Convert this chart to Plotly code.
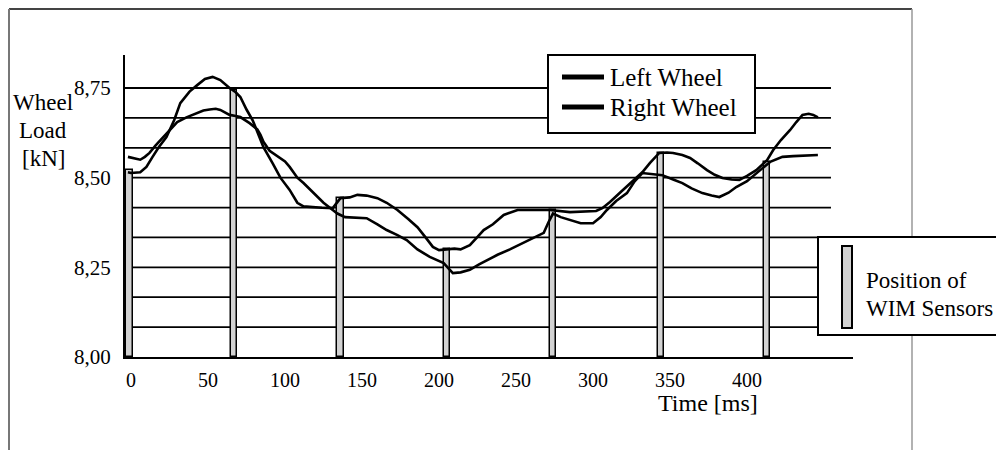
import plotly.graph_objects as go

# ---------------- data ----------------
left_t = [-2, 0, 6, 10, 14, 18, 23, 28, 32, 38, 43, 48, 53, 58, 64, 68, 71, 75, 79, 83, 86,
          92, 97, 103, 108, 112, 116, 124, 131, 134, 136, 142, 147, 153, 160, 166, 173, 180,
          186, 191, 196, 200, 205, 210, 214, 220, 225, 229, 235, 242, 251, 260, 272, 285,
          295, 302, 306, 311, 318, 326, 332, 337, 343, 348, 352, 358, 363, 368, 374, 379,
          384, 390, 395, 400, 406, 413, 417, 422, 428, 432, 436, 440, 443, 446]
left_load = [8.515, 8.513, 8.515, 8.530, 8.558, 8.585, 8.613, 8.660, 8.708, 8.740, 8.758, 8.775,
             8.781, 8.772, 8.750, 8.738, 8.725, 8.690, 8.660, 8.620, 8.585, 8.540, 8.500,
             8.466, 8.430, 8.420, 8.418, 8.416, 8.415, 8.430, 8.443, 8.445, 8.452, 8.450,
             8.443, 8.430, 8.410, 8.385, 8.362, 8.335, 8.307, 8.298, 8.300, 8.302, 8.300,
             8.312, 8.335, 8.354, 8.370, 8.396, 8.410, 8.410, 8.410, 8.404, 8.406, 8.407,
             8.415, 8.432, 8.460, 8.490, 8.515, 8.541, 8.569, 8.570, 8.569, 8.563, 8.555,
             8.540, 8.521, 8.508, 8.499, 8.495, 8.494, 8.505, 8.521, 8.549, 8.577, 8.605,
             8.633, 8.655, 8.675, 8.678, 8.675, 8.668]

right_t = [-2, 3, 6, 9, 12, 16, 21, 26, 30, 36, 43, 47, 51, 55, 58, 62, 64, 68, 71, 77, 82,
           84, 86, 90, 95, 100, 103, 108, 112, 118, 125, 131, 134, 139, 146, 153, 160, 166,
           173, 179, 186, 194, 203, 209, 214, 220, 226, 231, 238, 246, 256, 263, 268, 271,
           274, 279, 286, 292, 300, 305, 309, 315, 322, 327, 332, 338, 345, 352, 358, 364,
           371, 377, 382, 388, 393, 400, 406, 411, 415, 419, 423, 430, 438, 446]
right_load = [8.558, 8.553, 8.550, 8.558, 8.569, 8.590, 8.613, 8.635, 8.655, 8.668, 8.680,
              8.687, 8.690, 8.692, 8.689, 8.680, 8.675, 8.672, 8.669, 8.652, 8.635, 8.620,
              8.600, 8.575, 8.560, 8.545, 8.530, 8.500, 8.485, 8.460, 8.430, 8.410, 8.400,
              8.390, 8.388, 8.387, 8.370, 8.354, 8.340, 8.326, 8.300, 8.279, 8.262, 8.234,
              8.236, 8.243, 8.258, 8.270, 8.285, 8.300, 8.320, 8.335, 8.346, 8.375, 8.400,
              8.390, 8.380, 8.373, 8.373, 8.390, 8.410, 8.435, 8.457, 8.490, 8.513, 8.510,
              8.507, 8.495, 8.485, 8.470, 8.457, 8.450, 8.446, 8.458, 8.474, 8.490, 8.513,
              8.530, 8.544, 8.552, 8.558, 8.560, 8.562, 8.563]

sensor_t = [-1, 67, 136, 205, 274, 344, 413]
sensor_load = [8.52, 8.745, 8.443, 8.30, 8.41, 8.569, 8.544]

x_ticks = [0, 50, 100, 150, 200, 250, 300, 350, 400]
x_ticklabels = ["0", "50", "100", "150", "200", "250", "300", "350", "400"]
y_ticks = [8.00, 8.25, 8.50, 8.75]
y_ticklabels = ["8,00", "8,25", "8,50", "8,75"]
grid_levels = [8 + k / 12 for k in range(1, 10)]

Y_MIN, Y_MAX = 8.0, 8.842
X_MIN, X_MAX = -3.9, 468.8
GRID_END = 454.5

# ---------------- layout helpers (page pixel -> paper) ----------------
OFF = 8                      # the page body margin
FIG_W, FIG_H = 1004 - OFF, 450 - OFF
L, T, W, H = 125 - OFF, 55 - OFF, 728, 302
def px(x):
    return (x - OFF - L) / W
def py(y):
    return (T + H - (y - OFF)) / H

SERIF = "Liberation Serif, Times New Roman, serif"

fig = go.Figure()

fig.add_trace(go.Bar(
    x=sensor_t, y=[v - Y_MIN for v in sensor_load], base=Y_MIN, width=4,
    marker=dict(color="#d2d2d2", line=dict(color="black", width=1.5)),
    showlegend=False, hoverinfo="skip"))

fig.add_trace(go.Scatter(x=left_t, y=left_load, mode="lines", name="Left Wheel",
                         line=dict(color="black", width=2.6), showlegend=False))
fig.add_trace(go.Scatter(x=right_t, y=right_load, mode="lines", name="Right Wheel",
                         line=dict(color="black", width=2.6), showlegend=False))

shapes = []
for g in grid_levels:
    shapes.append(dict(type="line", xref="x", yref="y", x0=X_MIN, x1=GRID_END, y0=g, y1=g,
                       line=dict(color="black", width=1.8), layer="below"))

# outer scanned frame
shapes += [
    dict(type="line", xref="paper", yref="paper", x0=px(9), x1=px(912), y0=py(9), y1=py(9),
         line=dict(color="#444", width=2)),
    dict(type="line", xref="paper", yref="paper", x0=px(9), x1=px(9), y0=py(9), y1=py(450),
         line=dict(color="#777", width=2)),
    dict(type="line", xref="paper", yref="paper", x0=px(912), x1=px(912), y0=py(9), y1=py(450),
         line=dict(color="#999", width=1.5)),
]

# legend 1 box
shapes.append(dict(type="rect", xref="paper", yref="paper", x0=px(548), x1=px(755),
                   y0=py(133), y1=py(55), fillcolor="white", line=dict(color="black", width=2)))
for yy in (77, 107):
    shapes.append(dict(type="line", xref="paper", yref="paper", x0=px(562), x1=px(604),
                       y0=py(yy), y1=py(yy), line=dict(color="black", width=5)))
# legend 2 box
shapes.append(dict(type="rect", xref="paper", yref="paper", x0=px(818), x1=px(1012),
                   y0=py(335), y1=py(237), fillcolor="white", line=dict(color="black", width=2)))
shapes.append(dict(type="rect", xref="paper", yref="paper", x0=px(842), x1=px(852),
                   y0=py(328), y1=py(246), fillcolor="#d2d2d2", line=dict(color="black", width=2)))

annotations = []
def add_text(text, x, y, size, xanchor="left"):
    annotations.append(dict(text=text, xref="paper", yref="paper", x=px(x), y=py(y),
                            xanchor=xanchor, yanchor="middle", showarrow=False,
                            font=dict(family=SERIF, size=size, color="black")))

add_text("Left Wheel", 608, 77, 25)
add_text("Right Wheel", 608, 107, 25)
add_text("Position of", 864, 280, 23)
add_text("WIM Sensors", 864, 308, 23)
add_text("Wheel", 43, 102, 23, "center")
add_text("Load", 43, 130, 23, "center")
add_text("[kN]", 43, 158, 23, "center")
add_text("Time [ms]", 708, 403, 24, "center")

fig.update_layout(
    width=FIG_W, height=FIG_H,
    margin=dict(l=L, r=FIG_W - L - W, t=T, b=FIG_H - T - H),
    paper_bgcolor="white", plot_bgcolor="white",
    shapes=shapes, annotations=annotations, showlegend=False,
    bargap=0,
    xaxis=dict(range=[X_MIN, X_MAX], tickvals=x_ticks, ticktext=x_ticklabels,
               showgrid=False, zeroline=False, showline=True, linecolor="black", linewidth=2,
               ticks="", ticklabelstandoff=4,
               tickfont=dict(family=SERIF, size=20, color="black")),
    yaxis=dict(range=[Y_MIN, Y_MAX], tickvals=y_ticks, ticktext=y_ticklabels,
               showgrid=False, zeroline=False, showline=True, linecolor="black", linewidth=2,
               ticks="", ticklabelstandoff=8,
               tickfont=dict(family=SERIF, size=21, color="black")),
)

fig.write_html("out.html")
